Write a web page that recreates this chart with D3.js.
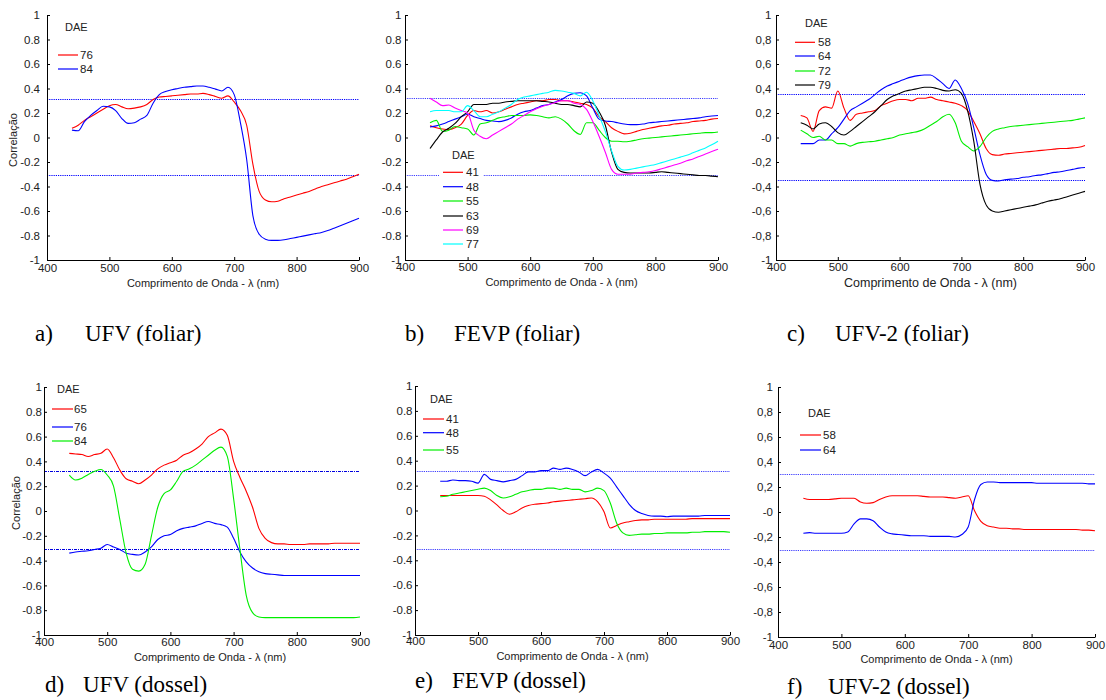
<!DOCTYPE html>
<html lang="pt">
<head>
    <meta charset="UTF-8">
    <title>Correlação por comprimento de onda</title>
    <style>
        body { margin: 0; background: #fff; }
        svg { display: block; }
    </style>
</head>
<body>
<div id="chart"></div>
<script src="https://cdn.jsdelivr.net/npm/d3@7"></script>
<script>
    // comprimentos de onda (nm) em que as curvas foram lidas
    const wavelengths = [440, 450, 460, 470, 480, 490, 500, 510, 520, 530,
        540, 550, 560, 570, 580, 590, 600, 610, 620, 630,
        640, 650, 660, 670, 680, 690, 700, 710, 720, 730,
        740, 750, 760, 770, 780, 790, 800, 810, 820, 830,
        840, 850, 860, 870, 880, 890, 900];

    const xTickValues = [400, 500, 600, 700, 800, 900];
    const yTickValues = [-1, -0.8, -0.6, -0.4, -0.2, 0, 0.2, 0.4, 0.6, 0.8, 1];

    // a) UFV (foliar)
    const ufvFoliarDae = ["76", "84"];
    const ufvFoliar76 = [0.075, 0.10, 0.14, 0.17, 0.20, 0.23, 0.26, 0.27, 0.25, 0.235,
        0.24, 0.25, 0.27, 0.31, 0.33, 0.335, 0.34, 0.345, 0.35, 0.355,
        0.355, 0.36, 0.35, 0.335, 0.32, 0.34, 0.29, 0.22, 0.10, -0.22,
        -0.44, -0.51, -0.525, -0.52, -0.50, -0.485, -0.47, -0.455, -0.44, -0.42,
        -0.40, -0.385, -0.37, -0.355, -0.34, -0.32, -0.30];
    const ufvFoliar84 = [0.06, 0.055, 0.13, 0.18, 0.22, 0.255, 0.25, 0.22, 0.155, 0.115,
        0.12, 0.15, 0.18, 0.28, 0.35, 0.375, 0.39, 0.40, 0.41, 0.415,
        0.42, 0.42, 0.41, 0.395, 0.38, 0.41, 0.35, 0.12, -0.18, -0.64,
        -0.79, -0.83, -0.84, -0.84, -0.835, -0.825, -0.815, -0.805, -0.795, -0.785,
        -0.775, -0.76, -0.74, -0.72, -0.70, -0.68, -0.66];
    const ufvFoliarLimits = [0.315, -0.31];

    // b) FEVP (foliar)
    const fevpFoliarDae = ["41", "48", "55", "63", "69", "77"];
    const fevpFoliar41 = [0.095, 0.08, 0.07, 0.065, 0.08, 0.11, 0.18, 0.22, 0.21, 0.22,
        0.20, 0.21, 0.23, 0.25, 0.27, 0.28, 0.29, 0.30, 0.30, 0.31,
        0.31, 0.30, 0.30, 0.29, 0.28, 0.27, 0.24, 0.17, 0.13, 0.08,
        0.05, 0.03, 0.035, 0.05, 0.065, 0.075, 0.085, 0.095, 0.10, 0.11,
        0.115, 0.12, 0.13, 0.135, 0.14, 0.15, 0.155];
    const fevpFoliar48 = [0.085, 0.095, 0.11, 0.13, 0.15, 0.17, 0.19, 0.17, 0.155, 0.14,
        0.135, 0.13, 0.14, 0.16, 0.19, 0.21, 0.22, 0.24, 0.26, 0.27,
        0.29, 0.31, 0.34, 0.36, 0.365, 0.34, 0.24, 0.15, 0.135, 0.13,
        0.12, 0.11, 0.105, 0.105, 0.11, 0.12, 0.125, 0.13, 0.135, 0.14,
        0.145, 0.15, 0.155, 0.16, 0.17, 0.175, 0.18];
    const fevpFoliar55 = [0.12, 0.14, 0.05, 0.06, 0.09, 0.08, 0.07, 0.02, 0.11, 0.12,
        0.14, 0.16, 0.17, 0.18, 0.18, 0.18, 0.185, 0.18, 0.17, 0.16,
        0.17, 0.15, 0.11, 0.055, 0.025, 0.12, 0.12, 0.06, 0.0, -0.03,
        -0.03, -0.035, -0.03, -0.02, -0.01, -0.005, 0.0, 0.005, 0.01, 0.015,
        0.02, 0.025, 0.03, 0.035, 0.04, 0.04, 0.045];
    const fevpFoliar63 = [-0.09, -0.02, 0.045, 0.075, 0.115, 0.17, 0.21, 0.27, 0.27, 0.27,
        0.28, 0.28, 0.29, 0.295, 0.30, 0.30, 0.30, 0.30, 0.295, 0.29,
        0.28, 0.27, 0.27, 0.26, 0.25, 0.29, 0.28, 0.21, 0.10, -0.12,
        -0.26, -0.285, -0.29, -0.29, -0.29, -0.29, -0.285, -0.28, -0.285, -0.29,
        -0.295, -0.30, -0.305, -0.31, -0.31, -0.315, -0.32];
    const fevpFoliar69 = [0.32, 0.29, 0.26, 0.265, 0.24, 0.22, 0.20, 0.06, 0.01, -0.01,
        0.02, 0.05, 0.08, 0.11, 0.15, 0.18, 0.21, 0.235, 0.255, 0.27,
        0.285, 0.30, 0.30, 0.28, 0.27, 0.23, 0.13, 0.01, -0.12, -0.26,
        -0.30, -0.30, -0.30, -0.29, -0.285, -0.28, -0.27, -0.255, -0.24, -0.225,
        -0.21, -0.19, -0.175, -0.155, -0.135, -0.115, -0.095];
    const fevpFoliar77 = [0.21, 0.22, 0.22, 0.22, 0.21, 0.21, 0.26, 0.22, 0.17, 0.17,
        0.19, 0.21, 0.24, 0.27, 0.31, 0.33, 0.34, 0.35, 0.36, 0.37,
        0.385, 0.38, 0.37, 0.36, 0.34, 0.37, 0.30, 0.18, 0.05, -0.11,
        -0.235, -0.265, -0.26, -0.25, -0.24, -0.23, -0.22, -0.205, -0.19, -0.175,
        -0.16, -0.145, -0.125, -0.105, -0.085, -0.06, -0.03];
    const fevpFoliarLimits = [0.325, -0.305];

    // c) UFV-2 (foliar)
    const ufv2FoliarDae = ["58", "64", "72", "79"];
    const ufv2Foliar58 = [0.18, 0.16, 0.05, 0.22, 0.25, 0.24, 0.38, 0.24, 0.14, 0.19,
        0.20, 0.21, 0.22, 0.26, 0.28, 0.30, 0.31, 0.31, 0.30, 0.32,
        0.32, 0.33, 0.31, 0.30, 0.29, 0.28, 0.26, 0.22, 0.13, 0.03,
        -0.09, -0.14, -0.145, -0.135, -0.13, -0.125, -0.12, -0.115, -0.11, -0.105,
        -0.10, -0.095, -0.09, -0.09, -0.085, -0.08, -0.065];
    const ufv2Foliar64 = [-0.05, -0.05, -0.05, -0.02, -0.02, 0.03, 0.08, 0.15, 0.22, 0.25,
        0.28, 0.31, 0.35, 0.39, 0.42, 0.44, 0.46, 0.48, 0.495, 0.505,
        0.51, 0.51, 0.48, 0.44, 0.40, 0.47, 0.40, 0.28, 0.08, -0.14,
        -0.30, -0.35, -0.355, -0.345, -0.34, -0.335, -0.325, -0.32, -0.31, -0.305,
        -0.295, -0.285, -0.28, -0.27, -0.26, -0.25, -0.245];
    const ufv2Foliar72 = [0.06, 0.03, 0.0, 0.01, -0.02, -0.02, -0.05, -0.05, -0.07, -0.05,
        -0.04, -0.035, -0.03, -0.02, -0.01, 0.0, 0.02, 0.03, 0.04, 0.05,
        0.07, 0.10, 0.13, 0.17, 0.19, 0.12, -0.03, -0.075, -0.11, -0.075,
        0.0, 0.05, 0.07, 0.08, 0.09, 0.095, 0.10, 0.105, 0.11, 0.115,
        0.12, 0.125, 0.13, 0.135, 0.14, 0.15, 0.16];
    const ufv2Foliar79 = [0.12, 0.10, 0.07, 0.11, 0.12, 0.09, 0.04, 0.02, 0.05, 0.09,
        0.13, 0.17, 0.21, 0.26, 0.31, 0.34, 0.36, 0.38, 0.39, 0.40,
        0.41, 0.41, 0.40, 0.385, 0.38, 0.39, 0.36, 0.22, -0.03, -0.38,
        -0.55, -0.60, -0.61, -0.60, -0.59, -0.58, -0.57, -0.56, -0.55, -0.535,
        -0.52, -0.51, -0.50, -0.485, -0.47, -0.455, -0.44];
    const ufv2FoliarLimits = [0.352, -0.348];

    // d) UFV (dossel)
    const ufvDosselDae = ["65", "76", "84"];
    const ufvDossel65 = [0.465, 0.46, 0.455, 0.44, 0.455, 0.465, 0.50, 0.43, 0.33, 0.26,
        0.24, 0.22, 0.25, 0.29, 0.34, 0.37, 0.39, 0.41, 0.45, 0.47,
        0.50, 0.54, 0.60, 0.63, 0.66, 0.61, 0.40, 0.27, 0.16, 0.03,
        -0.14, -0.22, -0.255, -0.265, -0.265, -0.27, -0.27, -0.27, -0.265, -0.265,
        -0.265, -0.265, -0.26, -0.26, -0.26, -0.26, -0.26];
    const ufvDossel76 = [-0.34, -0.33, -0.325, -0.32, -0.31, -0.30, -0.27, -0.29, -0.31, -0.34,
        -0.35, -0.355, -0.33, -0.29, -0.23, -0.20, -0.19, -0.16, -0.14, -0.13,
        -0.12, -0.10, -0.085, -0.10, -0.11, -0.13, -0.22, -0.33, -0.41, -0.46,
        -0.49, -0.505, -0.51, -0.515, -0.52, -0.52, -0.52, -0.52, -0.52, -0.52,
        -0.52, -0.52, -0.52, -0.52, -0.52, -0.52, -0.52];
    const ufvDossel84 = [0.29, 0.25, 0.265, 0.295, 0.32, 0.335, 0.29, 0.20, -0.07, -0.34,
        -0.47, -0.485, -0.43, -0.20, 0.03, 0.14, 0.17, 0.24, 0.32, 0.34,
        0.37, 0.41, 0.45, 0.49, 0.515, 0.44, 0.10, -0.31, -0.68, -0.82,
        -0.855, -0.86, -0.86, -0.86, -0.86, -0.86, -0.86, -0.86, -0.86, -0.86,
        -0.86, -0.86, -0.86, -0.86, -0.86, -0.86, -0.855];
    const ufvDosselLimits = [0.324, -0.305];

    // e) FEVP (dossel)
    const fevpDosselDae = ["41", "48", "55"];
    const fevpDossel41 = [0.12, 0.12, 0.12, 0.12, 0.12, 0.12, 0.12, 0.115, 0.085, 0.045,
        0.0, -0.03, -0.01, 0.02, 0.04, 0.05, 0.055, 0.06, 0.07, 0.075,
        0.08, 0.085, 0.09, 0.095, 0.10, 0.07, -0.01, -0.14, -0.12, -0.10,
        -0.09, -0.08, -0.075, -0.075, -0.07, -0.07, -0.07, -0.07, -0.07, -0.07,
        -0.065, -0.065, -0.065, -0.065, -0.065, -0.065, -0.065];
    const fevpDossel48 = [0.235, 0.235, 0.245, 0.24, 0.24, 0.235, 0.22, 0.29, 0.25, 0.24,
        0.23, 0.24, 0.25, 0.28, 0.31, 0.31, 0.32, 0.32, 0.34, 0.33,
        0.34, 0.33, 0.31, 0.28, 0.31, 0.33, 0.30, 0.26, 0.19, 0.12,
        0.05, 0.0, -0.025, -0.04, -0.045, -0.045, -0.05, -0.045, -0.045, -0.045,
        -0.045, -0.045, -0.04, -0.04, -0.04, -0.04, -0.04];
    const fevpDossel55 = [0.11, 0.115, 0.13, 0.14, 0.15, 0.16, 0.17, 0.18, 0.16, 0.12,
        0.10, 0.11, 0.13, 0.15, 0.16, 0.17, 0.17, 0.18, 0.18, 0.17,
        0.18, 0.17, 0.17, 0.15, 0.16, 0.18, 0.16, 0.06, -0.10, -0.18,
        -0.20, -0.195, -0.19, -0.19, -0.185, -0.185, -0.18, -0.18, -0.18, -0.18,
        -0.175, -0.175, -0.17, -0.17, -0.17, -0.17, -0.175];
    const fevpDosselLimits = [0.32, -0.31];

    // f) UFV-2 (dossel)
    const ufv2DosselDae = ["58", "64"];
    const ufv2Dossel58 = [0.11, 0.10, 0.10, 0.10, 0.10, 0.105, 0.11, 0.11, 0.11, 0.08,
        0.07, 0.075, 0.10, 0.12, 0.13, 0.13, 0.13, 0.13, 0.13, 0.125,
        0.12, 0.12, 0.12, 0.115, 0.11, 0.12, 0.13, 0.01, -0.075, -0.11,
        -0.12, -0.13, -0.13, -0.135, -0.135, -0.14, -0.14, -0.14, -0.14, -0.14,
        -0.14, -0.14, -0.14, -0.14, -0.145, -0.145, -0.15];
    const ufv2Dossel64 = [-0.17, -0.165, -0.17, -0.17, -0.17, -0.17, -0.17, -0.16, -0.095, -0.055,
        -0.055, -0.07, -0.12, -0.16, -0.175, -0.18, -0.185, -0.19, -0.19, -0.19,
        -0.195, -0.195, -0.195, -0.195, -0.20, -0.18, -0.12, 0.10, 0.22, 0.24,
        0.24, 0.235, 0.235, 0.235, 0.235, 0.235, 0.235, 0.23, 0.23, 0.23,
        0.23, 0.23, 0.23, 0.23, 0.23, 0.225, 0.225];
    const ufv2DosselLimits = [0.307, -0.30];

    const captionLetters = ["a)", "b)", "c)", "d)", "e)", "f)"];
    const captionTitles = ["UFV (foliar)", "FEVP (foliar)", "UFV-2 (foliar)",
        "UFV (dossel)", "FEVP (dossel)", "UFV-2 (dossel)"];

    const RED = "#ff0000", BLUE = "#0000ff", GREEN = "#00ee00",
        BLACK = "#000000", MAGENTA = "#ff00ff", CYAN = "#00ffff";

    const sans = "'Liberation Sans', Arial, sans-serif";
    const serif = "'Liberation Serif', 'Times New Roman', serif";

    // posição de cada painel na figura
    let panels = [
        {
            series: [ufvFoliar76, ufvFoliar84], dae: ufvFoliarDae, colors: [RED, BLUE],
            limits: ufvFoliarLimits, limitStyle: "dot",
            left: 47, right: 359, top: 15, bottom: 260, comma: false, yLabel: [13, 140],
            yPad: 7, xPad: 4, titleY: 283, titleSize: 11, titleShift: 0,
            legend: {daeX: 65, daeY: 27, x0: 58, x1: 78, tx: 80, rows: [55, 69]},
            caption: {lx: 35, tx: 85, y: 341}
        },
        {
            series: [fevpFoliar41, fevpFoliar48, fevpFoliar55, fevpFoliar63, fevpFoliar69, fevpFoliar77],
            dae: fevpFoliarDae, colors: [RED, BLUE, GREEN, BLACK, MAGENTA, CYAN],
            limits: fevpFoliarLimits, limitStyle: "lightdot",
            left: 405, right: 718, top: 15, bottom: 260, comma: false, yLabel: null,
            yPad: 3.5, xPad: 3, titleY: 282, titleSize: 11, titleShift: 0,
            legend: {daeX: 452, daeY: 155, x0: 443, x1: 463, tx: 466,
                rows: [172.3, 186.7, 201, 216, 230, 244], box: [439, 150, 44, 102]},
            caption: {lx: 405, tx: 454, y: 341}
        },
        {
            series: [ufv2Foliar58, ufv2Foliar64, ufv2Foliar72, ufv2Foliar79],
            dae: ufv2FoliarDae, colors: [RED, BLUE, GREEN, BLACK],
            limits: ufv2FoliarLimits, limitStyle: "dot",
            left: 776, right: 1085, top: 15, bottom: 260, comma: true, yLabel: null,
            yPad: 4.5, xPad: 3, titleY: 283, titleSize: 12.5, titleShift: 0,
            legend: {daeX: 805, daeY: 23, x0: 795, x1: 815, tx: 818, rows: [42.3, 56, 71, 85]},
            caption: {lx: 787, tx: 835, y: 341}
        },
        {
            series: [ufvDossel65, ufvDossel76, ufvDossel84], dae: ufvDosselDae, colors: [RED, BLUE, GREEN],
            limits: ufvDosselLimits, limitStyle: "dashdot",
            left: 44, right: 360, top: 387, bottom: 635, comma: false, yLabel: [16, 503],
            yPad: 2, xPad: 3, titleY: 657, titleSize: 11, titleShift: 8,
            legend: {daeX: 57, daeY: 389, x0: 52, x1: 73, tx: 74, rows: [409, 427, 441]},
            caption: {lx: 45, tx: 83, y: 692}
        },
        {
            series: [fevpDossel41, fevpDossel48, fevpDossel55], dae: fevpDosselDae, colors: [RED, BLUE, GREEN],
            limits: fevpDosselLimits, limitStyle: "lightdot",
            left: 415, right: 730, top: 386, bottom: 635, comma: false, yLabel: null,
            yPad: 2.5, xPad: 2, titleY: 656, titleSize: 11, titleShift: 0,
            legend: {daeX: 430, daeY: 399, x0: 423, x1: 444, tx: 446, rows: [419, 432.7, 450]},
            caption: {lx: 415, tx: 452, y: 688}
        },
        {
            series: [ufv2Dossel58, ufv2Dossel64], dae: ufv2DosselDae, colors: [RED, BLUE],
            limits: ufv2DosselLimits, limitStyle: "lightdot",
            left: 778, right: 1095, top: 387, bottom: 637, comma: true, yLabel: null,
            yPad: 5, xPad: 3.5, titleY: 659, titleSize: 11, titleShift: 0,
            legend: {daeX: 808, daeY: 413, x0: 800, x1: 821, tx: 823, rows: [435, 450]},
            caption: {lx: 787, tx: 828, y: 694}
        }
    ];

    const limitStyles = {
        "dot": {stroke: "#0000ff", dash: "1.2,1", width: 1},
        "lightdot": {stroke: "#3d3dff", dash: "1.2,1", width: 1},
        "dashdot": {stroke: "#0000e0", dash: "3,1,1,1", width: 1.1}
    };

    let svg = d3.select("#chart")
        .append("svg")
        .attr("width", 1106)
        .attr("height", 700)
        .style("background-color", "#ffffff");

    function formatTick(comma) {
        return function (v) {
            if (Math.abs(v) < 1e-9) return comma ? "-0" : "0";
            let s = String(+v.toFixed(1));
            return comma ? s.replace(".", ",") : s;
        };
    }

    function drawPanel(p, i) {
        let g = svg.append("g").classed("panel", true);

        let x = d3.scaleLinear().domain([400, 900]).range([p.left, p.right]);
        let y = d3.scaleLinear().domain([-1, 1]).range([p.bottom, p.top]);

        // limites de significância
        let ls = limitStyles[p.limitStyle];
        g.append("g")
            .selectAll("line")
            .data(p.limits)
            .join("line")
            .attr("x1", x(400))
            .attr("x2", x(900))
            .attr("y1", d => Math.round(y(d)) + 0.5)
            .attr("y2", d => Math.round(y(d)) + 0.5)
            .style("stroke", ls.stroke)
            .style("stroke-width", ls.width)
            .style("stroke-dasharray", ls.dash);

        // curvas
        let line = d3.line()
            .x((d, j) => x(wavelengths[j]))
            .y(d => y(d))
            .curve(d3.curveMonotoneX);

        g.append("g")
            .selectAll("path")
            .data(p.series)
            .join("path")
            .attr("d", line)
            .style("fill", "none")
            .style("stroke", (d, j) => p.colors[j])
            .style("stroke-width", 1.1);

        // eixos
        let yAxis = d3.axisLeft(y)
            .tickValues(yTickValues)
            .tickFormat(formatTick(p.comma))
            .tickSizeInner(-3)
            .tickSizeOuter(0)
            .tickPadding(p.yPad);

        let xAxis = d3.axisBottom(x)
            .tickValues(xTickValues)
            .tickFormat(d3.format("d"))
            .tickSizeInner(-3)
            .tickSizeOuter(0)
            .tickPadding(p.xPad);

        let ya = g.append("g")
            .attr("transform", `translate(${p.left},0)`)
            .call(yAxis);
        let xa = g.append("g")
            .attr("transform", `translate(0,${p.bottom})`)
            .call(xAxis);

        [ya, xa].forEach(a => {
            a.attr("font-family", sans).attr("font-size", 11.5);
            a.selectAll("path, line").style("stroke", "#000").style("stroke-width", 1);
            a.selectAll("text").style("fill", "#222");
        });

        g.append("text")
            .attr("x", (p.left + p.right) / 2 + p.titleShift)
            .attr("y", p.titleY)
            .attr("dy", "0.35em")
            .attr("text-anchor", "middle")
            .style("font-family", sans)
            .style("font-size", p.titleSize + "px")
            .style("fill", "#222")
            .text("Comprimento de Onda - λ (nm)");

        if (p.yLabel) {
            g.append("text")
                .attr("transform", `translate(${p.yLabel[0]},${p.yLabel[1]}) rotate(-90)`)
                .attr("dy", "0.35em")
                .attr("text-anchor", "middle")
                .style("font-family", sans)
                .style("font-size", "11px")
                .style("fill", "#222")
                .text("Correlação");
        }

        // legenda
        let lg = p.legend;
        let leg = g.append("g").classed("legend", true);
        if (lg.box) {
            leg.append("rect")
                .attr("x", lg.box[0]).attr("y", lg.box[1])
                .attr("width", lg.box[2]).attr("height", lg.box[3])
                .style("fill", "#fff");
        }
        leg.append("text")
            .attr("x", lg.daeX)
            .attr("y", lg.daeY)
            .attr("dy", "0.35em")
            .style("font-family", sans)
            .style("font-size", "11px")
            .style("fill", "#222")
            .text("DAE");

        let rows = leg.selectAll("g.row")
            .data(p.dae)
            .join("g")
            .classed("row", true)
            .attr("transform", (d, j) => `translate(0,${lg.rows[j]})`);
        rows.append("line")
            .attr("x1", lg.x0)
            .attr("x2", lg.x1)
            .style("stroke", (d, j) => p.colors[j])
            .style("stroke-width", 1.2);
        rows.append("text")
            .attr("x", lg.tx)
            .attr("dy", "0.35em")
            .style("font-family", sans)
            .style("font-size", "11.5px")
            .style("fill", "#222")
            .text(d => d);

        // legenda da figura
        let cap = svg.append("g").classed("caption", true)
            .style("font-family", serif)
            .style("font-size", "23px")
            .style("font-weight", "normal")
            .style("fill", "#000");
        cap.append("text").attr("x", p.caption.lx).attr("y", p.caption.y).text(captionLetters[i]);
        cap.append("text").attr("x", p.caption.tx).attr("y", p.caption.y).text(captionTitles[i]);
    }

    panels.forEach(drawPanel);
</script>
</body>
</html>
